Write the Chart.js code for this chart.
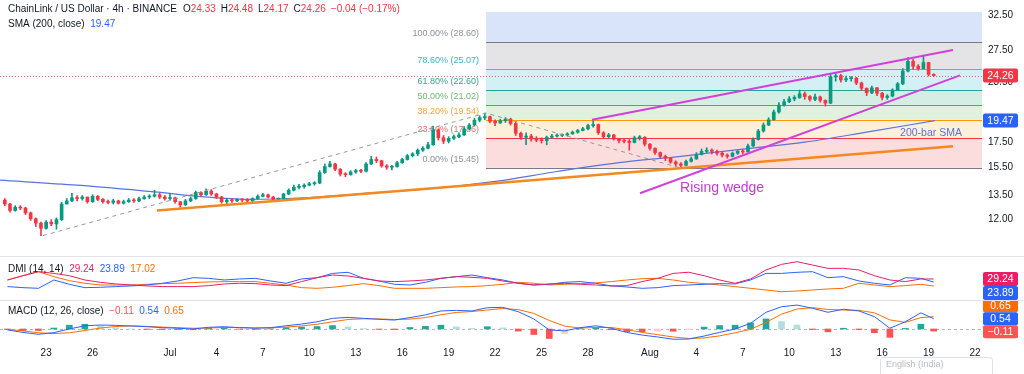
<!DOCTYPE html>
<html><head><meta charset="utf-8">
<script src="https://cdn.jsdelivr.net/npm/chart.js@4.4.1/dist/chart.umd.min.js"></script>
<style>
html,body{margin:0;padding:0;background:#fff;overflow:hidden;width:1024px;height:374px}
canvas{position:absolute;left:0;display:block}
#c1{top:0}#c2{top:257px}#c3{top:300px}
.sep{position:absolute;left:0;width:1024px;height:1px;background:#e0e3eb}
</style></head><body>
<canvas id="c1" width="1024" height="257"></canvas>
<canvas id="c2" width="1024" height="43"></canvas>
<canvas id="c3" width="1024" height="74"></canvas>
<div class="sep" style="top:256px"></div>
<div class="sep" style="top:300px"></div>
<script>
// ---------------- DATA ----------------
// 8-hour candles; day 0 = 1 July 00:00
const candleStartDay = -10 - 2/3;
const candleStepDay = 1/3;
const firstOpen = 13.20;
const closes = [
12.95,12.55,12.75,12.70,12.40,12.05,11.80,11.50,11.85,11.75,
12.00,12.95,13.15,13.35,13.30,13.40,13.10,13.45,13.25,13.10,
13.05,13.15,13.00,13.10,13.20,13.15,13.30,13.40,13.45,13.55,
13.40,13.30,13.35,13.10,12.90,13.15,13.30,13.70,13.55,13.80,
13.60,13.40,13.10,13.20,13.15,13.25,13.20,13.15,13.30,13.45,
13.55,13.40,13.25,13.25,13.60,13.85,14.05,14.10,14.20,14.30,
14.35,15.10,15.55,15.75,15.35,15.00,14.95,15.15,15.25,15.20,
15.75,16.10,16.00,15.60,15.50,15.55,15.85,16.10,16.40,16.55,
16.85,17.00,17.30,18.60,17.90,17.60,17.85,18.00,18.15,18.70,
19.05,19.50,19.75,19.85,19.40,19.25,19.45,19.60,19.20,18.30,
17.95,18.05,17.80,17.70,17.65,17.95,18.05,18.10,18.15,18.25,
18.40,18.55,18.70,19.00,19.10,18.35,18.00,18.15,17.80,17.65,
17.60,17.50,17.90,17.95,17.35,17.00,16.65,16.35,16.20,15.90,
15.75,15.65,15.95,16.15,16.50,16.75,16.85,16.75,16.60,16.45,
16.35,16.60,16.75,16.70,17.20,17.75,18.50,19.05,19.55,20.30,
21.00,21.35,21.65,21.80,22.20,21.90,21.60,21.85,21.50,21.20,
24.10,24.25,23.75,23.90,23.95,23.40,22.80,22.30,22.85,22.25,
21.80,21.95,22.60,23.30,24.80,26.00,25.40,25.10,25.85,24.40,
24.26];
const highs = [
13.30,13.00,12.85,12.85,12.75,12.45,12.10,11.85,11.95,12.00,
12.10,13.05,13.30,13.65,13.50,13.50,13.40,13.55,13.50,13.30,
13.20,13.25,13.20,13.20,13.30,13.30,13.40,13.50,13.55,13.85,
13.65,13.50,13.65,13.40,13.10,13.25,13.40,13.80,13.75,13.95,
13.90,13.65,13.45,13.30,13.30,13.30,13.30,13.30,13.35,13.55,
13.65,13.60,13.45,13.35,13.65,13.95,14.20,14.25,14.30,14.40,
14.45,15.25,15.75,15.95,15.80,15.40,15.10,15.25,15.35,15.35,
15.85,16.35,16.30,16.05,15.70,15.65,15.95,16.20,16.50,16.65,
16.95,17.15,17.50,18.95,18.70,18.10,18.00,18.15,18.35,18.90,
19.20,19.70,19.95,20.20,19.90,19.55,19.60,19.75,19.70,19.30,
18.40,18.35,18.20,18.00,17.90,18.05,18.20,18.25,18.25,18.35,
18.50,18.65,18.85,19.15,19.45,19.15,18.45,18.30,18.20,17.85,
17.80,17.75,18.05,18.10,18.00,17.40,17.05,16.70,16.45,16.25,
16.00,15.85,16.05,16.30,16.65,16.95,17.05,16.95,16.85,16.70,
16.55,16.70,16.85,16.90,17.35,17.90,18.65,19.25,19.75,20.50,
21.25,21.60,21.90,22.00,22.60,22.40,22.00,22.15,21.95,21.55,
24.45,24.65,24.40,24.20,24.15,24.05,23.50,22.85,23.05,22.90,
22.35,22.10,22.75,23.45,25.10,26.50,26.30,25.60,26.80,25.90,
24.48];
const lows = [
12.85,12.45,12.50,12.60,12.30,11.95,11.60,11.10,11.45,11.65,
11.45,11.95,12.95,13.10,13.15,13.20,13.00,13.05,13.15,13.00,
12.95,12.95,12.95,12.95,13.05,13.05,13.10,13.25,13.30,13.40,
13.30,13.20,13.20,13.00,12.75,12.85,13.10,13.25,13.45,13.50,
13.50,13.30,13.00,12.95,13.05,13.10,13.10,13.10,13.10,13.25,
13.40,13.35,13.20,13.15,13.20,13.55,13.80,13.95,14.00,14.15,
14.20,14.30,15.05,15.50,15.25,14.85,14.80,14.90,15.05,15.10,
15.15,15.70,15.85,15.50,15.35,15.30,15.50,15.80,16.05,16.30,
16.40,16.75,16.95,17.25,17.70,17.40,17.45,17.75,17.90,18.10,
18.60,19.00,19.35,19.55,19.25,19.00,19.20,19.30,19.05,18.10,
17.75,17.30,17.60,17.55,17.45,17.30,17.85,17.95,18.00,18.05,
18.20,18.30,18.50,18.60,18.85,18.20,17.85,17.90,17.70,17.45,
17.45,16.85,17.45,17.70,17.20,16.85,16.50,16.20,16.00,15.80,
15.55,15.40,15.60,15.90,16.10,16.45,16.65,16.55,16.45,16.30,
16.20,16.30,16.50,16.55,16.70,17.15,17.70,18.40,19.00,19.50,
20.20,20.90,21.25,21.45,21.70,21.60,21.40,21.45,21.30,20.90,
21.15,23.60,23.50,23.55,23.60,23.20,22.55,22.00,22.20,22.00,
21.55,21.60,21.85,22.55,23.20,24.70,25.00,24.90,25.05,24.20,
24.17];

const priceTicks = [12.00, 13.50, 15.50, 17.50, 19.50, 23.50, 27.50, 32.50];
const smaDays   = [-10.98, -6, -1, 2, 5, 9, 13, 17, 21, 25, 29, 33, 37, 41, 45, 49.4];
const smaValues = [14.55, 14.20, 13.74, 13.43, 13.25, 13.37, 13.67, 13.97, 14.46, 15.18, 15.85, 16.35, 16.94, 17.52, 18.40, 19.47];
const lastPrice = 24.26, lastSma = 19.47;

const fibLabels = ['100.00%', '78.60%', '61.80%', '50.00%', '38.20%', '23.60%', '0.00%'];
const fibPrices = [28.60, 25.07, 22.60, 21.02, 19.54, 17.86, 15.45];
const fibStartDay = 20.41;

const supportDays = [-0.84, 50.58],  supportPrices = [12.55, 17.18];
const wedgeTopDays = [27.26, 50.58], wedgeTopPrices = [19.54, 27.48];
const wedgeBotDays = [30.36, 51.03], wedgeBotPrices = [13.65, 24.28];
const swingDays = [-8.2, 20.41, 32.95], swingPrices = [11.10, 20.20, 15.45];

const annoTexts = ['Rising wedge', '200-bar SMA'];
const annoDays = [32.95, 47.16];
const annoPrices = [14.01, 18.28];

const headerTitle = 'ChainLink / US Dollar · 4h · BINANCE';
const headerOHLC = [['O', '24.33'], ['H', '24.48'], ['L', '24.17'], ['C', '24.26']];
const headerChange = '−0.04 (−0.17%)';

// indicators, sampled once a day
const indDays = [-10.5,-9.5,-8.5,-7.5,-6.5,-5.5,-4.5,-3.5,-2.5,-1.5,-0.5,
 0.5,1.5,2.5,3.5,4.5,5.5,6.5,7.5,8.5,9.5,
 10.5,11.5,12.5,13.5,14.5,15.5,16.5,17.5,18.5,19.5,
 20.5,21.5,22.5,23.5,24.5,25.5,26.5,27.5,28.5,29.5,
 30.5,31.5,32.5,33.5,34.5,35.5,36.5,37.5,38.5,39.5,
 40.5,41.5,42.5,43.5,44.5,45.5,46.5,47.5,48.5,49.33];
const adx = [27.5,35,42,39,35,27.5,23.5,20.6,18.8,17.2,16,
 16,16,17.7,20.6,21.8,21.2,18.8,17.7,24.7,31.5,
 36.2,34.5,30.4,25.8,24.7,25.8,27.5,30.4,33.3,32.2,
 30.4,25.8,21.8,18.8,20.6,21.8,20,18.8,17.2,17.7,
 24.7,30.4,39,41,35,27.5,21.8,29.3,45,54.7,
 59.4,53.6,47.8,47.8,45,35,27.5,24.7,29.3,29.24];
const plusDI = [16,14.2,13,27.5,20,14.2,14.8,16,17.2,18.8,21.8,
 25.8,31.5,30.4,27.5,29.3,30.4,25.8,21.8,29.3,31.5,
 39,40.9,30.4,25.8,20,18.8,23.5,30.4,33.3,36.2,
 31.5,27.5,21.8,18.8,20,23.5,24.7,21.8,17.2,15.4,
 13,14.2,17.7,18.8,20,21.2,20.6,27.5,39,39,
 40.9,42,31.5,33.3,25.8,21.8,18.8,31.5,30.4,23.89];
const minusDI = [27.5,35,42,33.3,26.4,21.8,18.8,18.8,18.8,20,21.2,
 21.8,23,24.1,24.7,24.7,24.7,21.8,18.8,14.2,13,
 14.8,17.7,21.2,17.7,13,13,13,14.2,15.4,16,
 17.7,20,23.5,21.8,18.8,20,21.2,22.4,24.7,27.5,
 29.8,30.4,27.5,23.5,21.2,18.8,16,13,10.1,7.1,
 8.3,10.1,11.9,13,21.8,18.8,16,17.7,20,17.02];
const macdLine = [-0.05,-0.18,-0.28,-0.19,0.00,0.17,0.21,0.19,0.16,0.12,0.07,
 0.04,0.00,0.09,0.12,0.07,0.04,0.07,0.17,0.26,0.38,
 0.56,0.61,0.56,0.51,0.47,0.60,0.74,0.95,0.98,0.95,
 1.12,1.14,0.91,0.53,-0.05,-0.10,0.07,0.17,0.04,-0.18,
 -0.32,-0.42,-0.54,-0.53,-0.37,-0.18,0.00,0.30,0.88,1.17,
 1.26,1.09,0.88,1.04,0.95,0.65,0.04,0.38,0.85,0.54];
const signalLine = [-0.02,-0.10,-0.20,-0.24,-0.20,-0.08,0.05,0.13,0.16,0.14,0.10,
 0.07,0.04,0.05,0.08,0.08,0.06,0.06,0.10,0.16,0.25,
 0.38,0.50,0.54,0.53,0.50,0.52,0.60,0.75,0.87,0.92,
 1.00,1.08,1.02,0.82,0.45,0.15,0.05,0.08,0.08,-0.04,
 -0.18,-0.30,-0.42,-0.50,-0.47,-0.36,-0.20,-0.02,0.35,0.78,
 1.05,1.12,1.03,1.00,0.98,0.85,0.48,0.35,0.60,0.65];

const xTickDays   = [-8, -5, 0, 3, 6, 9, 12, 15, 18, 21, 24, 27, 31, 34, 37, 40, 43, 46, 49, 52];
const xTickLabels = ['23','26','Jul','4','7','10','13','16','19','22','25','28','Aug','4','7','10','13','16','19','22'];

// ---------------- STYLE ----------------
const FONT = '"Liberation Sans", Arial, sans-serif';
const X_MIN = -10.98, X_MAX = 52.45, AXIS_W = 42;
const UP = '#089981', DOWN = '#F23645', TXT = '#131722';
const fibLineColors = ['#787b86', '#26c6da', '#26a69a', '#4caf50', '#ff9800', '#f23645', '#787b86'];
const fibTextColors = ['#8d909a', '#3fb0c9', '#3a9f8a', '#6cb86f', '#f2a53a', '#ef6b6b', '#8d909a'];
const fibTopFill = '#d9e3f9';
const fibFills = ['#e4e4e6', '#d3f1f4', '#d4eee5', '#e0f1dd', '#fdf0db', '#fbdddd'];
Chart.defaults.font.family = FONT;
Chart.defaults.color = TXT;

function rr(ctx, x, y, w, h, r) {
  ctx.beginPath();
  if (ctx.roundRect) ctx.roundRect(x, y, w, h, r); else ctx.rect(x, y, w, h);
}
function drawParts(ctx, x, y, parts, font) {
  ctx.font = font; ctx.textAlign = 'left'; ctx.textBaseline = 'middle';
  for (const [t, c] of parts) { ctx.fillStyle = c; ctx.fillText(t, x, y); x += ctx.measureText(t).width; }
  return x;
}
function valueBoxes(ctx, items, left, w, h) {
  items.sort((a, b) => a.y - b.y);
  for (let i = 1; i < items.length; i++) {
    const a = items[i - 1], b = items[i];
    if (b.y - a.y < h) { if (b.anchor) a.y = b.y - h; else b.y = a.y + h; }
  }
  items.forEach(it => {
    ctx.fillStyle = it.color; rr(ctx, left, it.y - h / 2, w, h, 2); ctx.fill();
    ctx.fillStyle = '#fff'; ctx.font = `10.5px ${FONT}`; ctx.textAlign = 'center'; ctx.textBaseline = 'middle';
    ctx.fillText(it.text, left + w / 2, it.y + 0.5);
  });
}
const baseOpts = () => ({
  responsive: false, animation: false, events: [],
  layout: { padding: 0 },
  plugins: { legend: { display: false }, tooltip: { enabled: false } },
});
const hiddenX = { type: 'linear', min: X_MIN, max: X_MAX, display: false, offset: false, grid: { display: false } };
const fixedW = ax => { ax.width = AXIS_W; };

// ---------------- MAIN PANE ----------------
const candleDays = closes.map((_, i) => candleStartDay + i * candleStepDay);
const opens = closes.map((_, i) => i === 0 ? firstOpen : closes[i - 1]);
const candleColors = closes.map((c, i) => c >= opens[i] ? UP : DOWN);
const pts = (ds, vs) => ds.map((d, i) => ({ x: d, y: vs[i] }));

const mainOverlay = {
  id: 'mainOverlay',
  beforeDatasetsDraw(chart) {
    const { ctx, chartArea: a, scales: { x, y } } = chart;
    ctx.save();
    ctx.beginPath(); ctx.rect(a.left, a.top, a.right - a.left, a.bottom - a.top); ctx.clip();
    const x0 = x.getPixelForValue(fibStartDay), x1 = a.right;
    const yTop = y.getPixelForValue(fibPrices[0]);
    ctx.fillStyle = fibTopFill; ctx.fillRect(x0, a.top, x1 - x0, yTop - a.top);
    for (let i = 0; i < fibPrices.length - 1; i++) {
      const ya = y.getPixelForValue(fibPrices[i]), yb = y.getPixelForValue(fibPrices[i + 1]);
      ctx.fillStyle = fibFills[i]; ctx.fillRect(x0, ya, x1 - x0, yb - ya);
    }
    fibPrices.forEach((p, i) => {
      const yy = Math.round(y.getPixelForValue(p)) + 0.5;
      ctx.strokeStyle = fibLineColors[i]; ctx.lineWidth = 1;
      ctx.beginPath(); ctx.moveTo(x0, yy); ctx.lineTo(x1, yy); ctx.stroke();
      ctx.fillStyle = fibTextColors[i]; ctx.font = `9px ${FONT}`;
      ctx.textAlign = 'right'; ctx.textBaseline = 'middle';
      ctx.fillText(`${fibLabels[i]} (${p.toFixed(2)})`, x0 - 7, yy - 8.5);
    });
    // last price dotted line
    const yl = Math.round(y.getPixelForValue(lastPrice)) + 0.5;
    ctx.strokeStyle = 'rgba(200,60,80,0.75)'; ctx.setLineDash([1, 2]);
    ctx.beginPath(); ctx.moveTo(a.left, yl); ctx.lineTo(a.right, yl); ctx.stroke();
    ctx.restore();
  },
  afterDraw(chart) {
    const { ctx, scales: { x, y } } = chart;
    ctx.save();
    ctx.textAlign = 'left'; ctx.textBaseline = 'middle';
    ctx.font = `14px ${FONT}`; ctx.fillStyle = '#c43ad6';
    ctx.fillText(annoTexts[0], x.getPixelForValue(annoDays[0]), y.getPixelForValue(annoPrices[0]));
    ctx.font = `10.5px ${FONT}`; ctx.fillStyle = '#5b6fd6';
    ctx.fillText(annoTexts[1], x.getPixelForValue(annoDays[1]), y.getPixelForValue(annoPrices[1]));
    const f = `10px ${FONT}`;
    let hx = drawParts(ctx, 8, 9, [[headerTitle, TXT]], f) + 6;
    headerOHLC.forEach(([k, v]) => { hx = drawParts(ctx, hx, 9, [[k, TXT], [v, DOWN]], f) + 5; });
    drawParts(ctx, hx, 9, [[headerChange, DOWN]], f);
    drawParts(ctx, 8, 24, [['SMA (200, close)', TXT], ['  ', TXT], [lastSma.toFixed(2), '#2962FF']], f);
    valueBoxes(ctx, [
      { y: y.getPixelForValue(lastPrice), color: '#F23645', text: lastPrice.toFixed(2), anchor: true },
      { y: y.getPixelForValue(lastSma), color: '#2962FF', text: lastSma.toFixed(2), anchor: true }
    ], 983, 35, 14);
    ctx.restore();
  }
};

new Chart(document.getElementById('c1'), {
  type: 'bar',
  data: {
    datasets: [
      { type: 'line', data: pts(wedgeTopDays, wedgeTopPrices), borderColor: '#d43fdc', borderWidth: 2, pointRadius: 0, order: 0 },
      { type: 'line', data: pts(wedgeBotDays, wedgeBotPrices), borderColor: '#d43fdc', borderWidth: 2, pointRadius: 0, order: 0 },
      { type: 'line', data: pts(supportDays, supportPrices), borderColor: '#f5891f', borderWidth: 2.5, pointRadius: 0, order: 0 },
      { type: 'line', data: pts(swingDays, swingPrices), borderColor: '#9598a1', borderWidth: 1, borderDash: [4, 4], pointRadius: 0, order: 0 },
      { type: 'bar', data: candleDays.map((d, i) => ({ x: d, y: [opens[i], closes[i]] })), backgroundColor: candleColors,
        barThickness: 3, grouped: false, minBarLength: 1, borderWidth: 0, order: 1 },
      { type: 'bar', data: candleDays.map((d, i) => ({ x: d, y: [lows[i], highs[i]] })), backgroundColor: candleColors,
        barThickness: 1, grouped: false, borderWidth: 0, order: 2 },
      { type: 'line', data: pts(smaDays, smaValues), borderColor: '#5b73de', borderWidth: 1.2, pointRadius: 0,
        cubicInterpolationMode: 'monotone', order: 3 }
    ]
  },
  options: Object.assign(baseOpts(), {
    scales: {
      x: hiddenX,
      y: {
        type: 'logarithmic', position: 'right', min: 10.60, max: 33.10,
        grid: { display: false, drawTicks: false }, border: { display: false },
        ticks: { padding: 6, font: { size: 10 }, color: TXT, autoSkip: false, callback: v => Number(v).toFixed(2) },
        afterBuildTicks: ax => { ax.ticks = priceTicks.map(v => ({ value: v })); },
        afterFit: fixedW
      }
    }
  }),
  plugins: [mainOverlay]
});

// ---------------- DMI PANE ----------------
const dmiOverlay = {
  id: 'dmiOverlay',
  afterDraw(chart) {
    const { ctx, scales: { y } } = chart;
    ctx.save();
    const n = adx.length - 1;
    const f = `10px ${FONT}`;
    drawParts(ctx, 8, 12, [['DMI (14, 14)  ', TXT], [adx[n].toFixed(2), '#e91e63'], ['  ', TXT],
      [plusDI[n].toFixed(2), '#2962FF'], ['  ', TXT], [minusDI[n].toFixed(2), '#FF6D00']], f);
    valueBoxes(ctx, [
      { y: y.getPixelForValue(adx[n]), color: '#e91e63', text: adx[n].toFixed(2), anchor: true },
      { y: y.getPixelForValue(plusDI[n]), color: '#2962FF', text: plusDI[n].toFixed(2), anchor: false }
    ], 983, 35, 14);
    ctx.restore();
  }
};
new Chart(document.getElementById('c2'), {
  type: 'line',
  data: {
    datasets: [
      { data: pts(indDays, adx), borderColor: '#e91e63', borderWidth: 1, pointRadius: 0 },
      { data: pts(indDays, plusDI), borderColor: '#2962FF', borderWidth: 1, pointRadius: 0 },
      { data: pts(indDays, minusDI), borderColor: '#FF6D00', borderWidth: 1, pointRadius: 0 }
    ]
  },
  options: Object.assign(baseOpts(), {
    scales: {
      x: hiddenX,
      y: { type: 'linear', position: 'right', min: -7.35, max: 67.57, grid: { display: false },
           border: { display: false }, ticks: { display: false }, afterFit: fixedW }
    }
  }),
  plugins: [dmiOverlay]
});

// ---------------- MACD PANE ----------------
const hist = macdLine.map((m, i) => m - signalLine[i]);
const histColors = hist.map((h, i) => {
  const p = i ? hist[i - 1] : 0;
  return h >= 0 ? (h >= p ? '#26a69a' : '#b2dfdb') : (h < p ? '#ff5252' : '#ffcdd2');
});
const macdOverlay = {
  id: 'macdOverlay',
  beforeDatasetsDraw(chart) {
    const { ctx, chartArea: a, scales: { y } } = chart;
    ctx.save();
    const y0 = Math.round(y.getPixelForValue(0)) + 0.5;
    ctx.strokeStyle = '#b2b5be'; ctx.setLineDash([3, 3]); ctx.lineWidth = 1;
    ctx.beginPath(); ctx.moveTo(a.left, y0); ctx.lineTo(a.right, y0); ctx.stroke();
    ctx.restore();
  },
  afterDraw(chart) {
    const { ctx, scales: { y } } = chart;
    ctx.save();
    const n = macdLine.length - 1;
    const f = `10px ${FONT}`;
    const fmt = v => (v < 0 ? '−' : '') + Math.abs(v).toFixed(2);
    drawParts(ctx, 8, 11, [['MACD (12, 26, close)  ', TXT], [fmt(hist[n]), '#ff5252'], ['  ', TXT],
      [fmt(macdLine[n]), '#2962FF'], ['  ', TXT], [fmt(signalLine[n]), '#FF6D00']], f);
    valueBoxes(ctx, [
      { y: y.getPixelForValue(signalLine[n]), color: '#FF6D00', text: fmt(signalLine[n]), anchor: false },
      { y: y.getPixelForValue(macdLine[n]), color: '#2962FF', text: fmt(macdLine[n]), anchor: true },
      { y: y.getPixelForValue(hist[n]), color: '#ff5252', text: fmt(hist[n]), anchor: false }
    ], 983, 35, 13);
    ctx.fillStyle = 'rgba(255,255,255,0.9)'; ctx.strokeStyle = '#dfe1e6';
    rr(ctx, 880.5, 57.5, 112, 20, 3); ctx.fill(); ctx.stroke();
    ctx.fillStyle = '#b8bbc3'; ctx.font = `9px ${FONT}`; ctx.textAlign = 'left'; ctx.textBaseline = 'middle';
    ctx.fillText('English (India)', 886, 65);
    ctx.restore();
  }
};
new Chart(document.getElementById('c3'), {
  type: 'bar',
  data: {
    datasets: [
      { type: 'line', data: pts(indDays, macdLine), borderColor: '#2962FF', borderWidth: 1, pointRadius: 0, order: 0 },
      { type: 'line', data: pts(indDays, signalLine), borderColor: '#FF6D00', borderWidth: 1, pointRadius: 0, order: 1 },
      { type: 'bar', data: pts(indDays, hist), backgroundColor: histColors, barThickness: 6, grouped: false, borderWidth: 0, order: 2 }
    ]
  },
  options: Object.assign(baseOpts(), {
    scales: {
      x: { type: 'linear', min: X_MIN, max: X_MAX, offset: false, position: 'bottom',
           grid: { display: false, drawTicks: false }, border: { display: false },
           ticks: { padding: 4, font: { size: 10 }, color: TXT, autoSkip: false, maxRotation: 0,
                    callback: (v, i) => xTickLabels[i] },
           afterBuildTicks: ax => { ax.ticks = xTickDays.map(v => ({ value: v })); },
           afterFit: ax => { ax.height = 31; } },
      y: { type: 'linear', position: 'right', min: -0.737, max: 1.526, grid: { display: false },
           border: { display: false }, ticks: { display: false }, afterFit: fixedW }
    }
  }),
  plugins: [macdOverlay]
});
</script>
</body></html>
